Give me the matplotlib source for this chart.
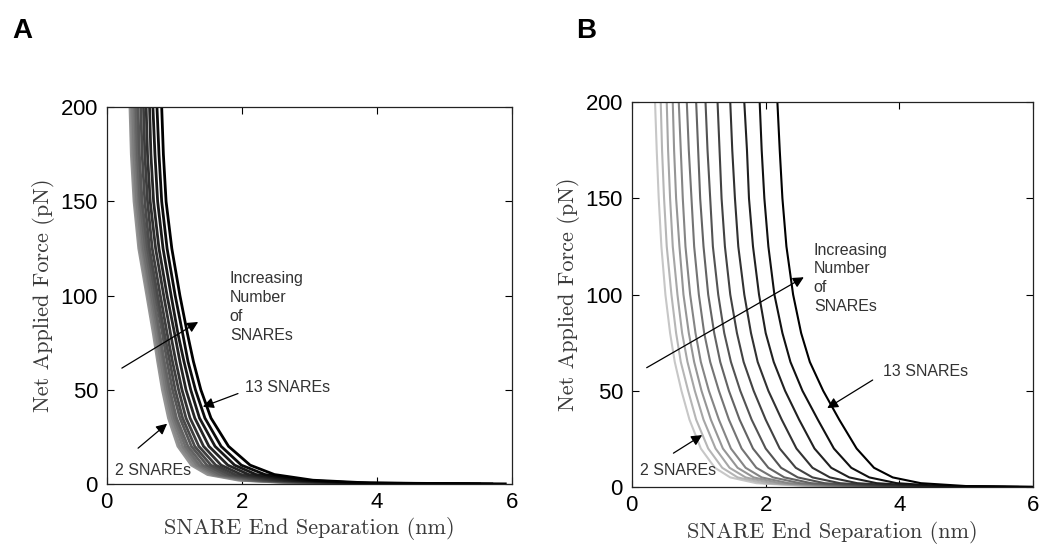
import numpy as np
import matplotlib
matplotlib.use("Agg")
import matplotlib.pyplot as plt

force_levels = [200, 175, 150, 125, 100, 80, 65, 50, 35, 20, 10, 5, 2, 0.5, 0.05]

# panel A: separation (nm) of each curve (lightest -> darkest) at each force level
sep_A = [
    [0.34, 0.36, 0.38, 0.41, 0.43, 0.46, 0.50, 0.54, 0.58, 0.63, 0.68, 0.74, 0.81],
    [0.36, 0.38, 0.40, 0.43, 0.45, 0.48, 0.52, 0.56, 0.60, 0.65, 0.71, 0.77, 0.835],
    [0.40, 0.42, 0.44, 0.47, 0.49, 0.52, 0.56, 0.60, 0.64, 0.69, 0.75, 0.81, 0.875],
    [0.47, 0.49, 0.52, 0.54, 0.57, 0.60, 0.63, 0.67, 0.72, 0.77, 0.83, 0.89, 0.96],
    [0.59, 0.61, 0.64, 0.66, 0.69, 0.72, 0.75, 0.79, 0.84, 0.89, 0.95, 1.01, 1.08],
    [0.685, 0.71, 0.73, 0.76, 0.78, 0.82, 0.85, 0.89, 0.94, 1.00, 1.05, 1.12, 1.19],
    [0.75, 0.77, 0.80, 0.83, 0.85, 0.89, 0.93, 0.97, 1.02, 1.08, 1.14, 1.20, 1.28],
    [0.82, 0.85, 0.87, 0.90, 0.93, 0.97, 1.01, 1.06, 1.11, 1.17, 1.24, 1.31, 1.39],
    [0.91, 0.94, 0.97, 1.00, 1.03, 1.08, 1.12, 1.17, 1.23, 1.30, 1.37, 1.45, 1.54],
    [1.05, 1.08, 1.12, 1.16, 1.20, 1.25, 1.30, 1.36, 1.43, 1.51, 1.60, 1.69, 1.80],
    [1.25, 1.29, 1.33, 1.37, 1.42, 1.48, 1.54, 1.61, 1.69, 1.79, 1.89, 1.99, 2.12],
    [1.49, 1.54, 1.58, 1.63, 1.68, 1.75, 1.82, 1.90, 1.99, 2.10, 2.21, 2.34, 2.48],
    [1.95, 2.00, 2.05, 2.11, 2.16, 2.24, 2.32, 2.41, 2.51, 2.63, 2.75, 2.89, 3.05],
    [2.80, 2.85, 2.90, 2.96, 3.01, 3.09, 3.17, 3.26, 3.36, 3.48, 3.60, 3.74, 3.90],
    [4.50, 4.56, 4.63, 4.70, 4.77, 4.87, 4.97, 5.08, 5.21, 5.36, 5.52, 5.70, 5.90],
]

# panel B: same layout
sep_B = [
    [0.345, 0.43, 0.52, 0.61, 0.70, 0.82, 0.96, 1.10, 1.28, 1.47, 1.68, 1.91, 2.175],
    [0.37, 0.45, 0.54, 0.63, 0.73, 0.85, 0.99, 1.13, 1.31, 1.50, 1.72, 1.94, 2.21],
    [0.40, 0.48, 0.57, 0.66, 0.76, 0.89, 1.02, 1.17, 1.34, 1.54, 1.75, 1.98, 2.25],
    [0.44, 0.52, 0.61, 0.71, 0.80, 0.93, 1.07, 1.21, 1.39, 1.59, 1.81, 2.04, 2.31],
    [0.50, 0.59, 0.68, 0.77, 0.87, 1.00, 1.14, 1.29, 1.47, 1.68, 1.90, 2.13, 2.41],
    [0.57, 0.66, 0.75, 0.85, 0.95, 1.08, 1.23, 1.38, 1.57, 1.78, 2.00, 2.25, 2.53],
    [0.64, 0.73, 0.83, 0.93, 1.03, 1.17, 1.32, 1.48, 1.67, 1.88, 2.12, 2.37, 2.66],
    [0.74, 0.84, 0.94, 1.04, 1.15, 1.30, 1.45, 1.62, 1.82, 2.04, 2.29, 2.55, 2.86],
    [0.86, 0.96, 1.07, 1.18, 1.30, 1.45, 1.61, 1.79, 2.00, 2.24, 2.50, 2.78, 3.10],
    [1.03, 1.14, 1.25, 1.36, 1.48, 1.64, 1.81, 2.00, 2.21, 2.46, 2.73, 3.02, 3.36],
    [1.24, 1.35, 1.46, 1.58, 1.70, 1.86, 2.04, 2.23, 2.45, 2.70, 2.98, 3.28, 3.62],
    [1.47, 1.58, 1.70, 1.82, 1.94, 2.11, 2.28, 2.48, 2.70, 2.96, 3.25, 3.55, 3.90],
    [1.86, 1.97, 2.09, 2.21, 2.34, 2.51, 2.68, 2.88, 3.11, 3.37, 3.66, 3.96, 4.32],
    [2.60, 2.71, 2.82, 2.94, 3.07, 3.23, 3.40, 3.59, 3.82, 4.08, 4.35, 4.65, 5.00],
    [4.60, 4.67, 4.75, 4.83, 4.91, 5.02, 5.13, 5.26, 5.41, 5.58, 5.77, 5.97, 6.20],
]

gray_A = (0.58, 0.0)   # lightest -> darkest grey level
gray_B = (0.78, 0.0)

serif = "cmr10"
plt.rcParams["axes.formatter.use_mathtext"] = True


def draw_panel(ax, sep, grays, lw):
    sep = np.array(sep)
    g0, g1 = grays
    n = sep.shape[1]
    for k in range(n):
        g = g0 + (g1 - g0) * k / (n - 1)
        ax.plot(sep[:, k], force_levels, color=(g, g, g), lw=lw, solid_joinstyle="round")
    ax.set_xlim(0, 6)
    ax.set_ylim(0, 200)
    ax.set_xticks([0, 2, 4, 6])
    ax.set_yticks([0, 50, 100, 150, 200])
    ax.tick_params(direction="in", length=5, top=True, right=True,
                   labelsize=16, pad=6, width=0.8)
    for lab in ax.get_xticklabels() + ax.get_yticklabels():
        lab.set_family("Liberation Sans")
    for s in ax.spines.values():
        s.set_linewidth(0.9)
        s.set_color("#222222")
    ax.set_xlabel("SNARE End Separation (nm)", family=serif, fontsize=16,
                  color="#3a3a3a", labelpad=3)
    ax.set_ylabel("Net Applied Force (pN)", family=serif, fontsize=16,
                  color="#3a3a3a", labelpad=4)


def arrow(ax, tail, tip):
    ax.annotate("", xy=tip, xytext=tail,
                arrowprops=dict(arrowstyle="-|>", color="k", lw=0.9,
                                mutation_scale=16, shrinkA=0, shrinkB=0))


fig = plt.figure(figsize=(10.42, 5.46), dpi=100)
axA = fig.add_axes([0.1027, 0.1136, 0.3887, 0.690])
axB = fig.add_axes([0.6065, 0.1080, 0.3850, 0.705])

draw_panel(axA, sep_A, gray_A, 2.0)
draw_panel(axB, sep_B, gray_B, 1.5)

txt = dict(family="Liberation Sans", fontsize=11.5, color="#333333")

# panel A annotations
axA.text(1.82, 113, "Increasing\nNumber\nof\nSNAREs", va="top", ha="left",
         linespacing=1.32, **txt)
arrow(axA, (0.22, 61.5), (1.35, 86))
axA.text(2.04, 51, "13 SNAREs", va="center", ha="left", **txt)
arrow(axA, (1.94, 48), (1.42, 41))
axA.text(0.12, 7.4, "2 SNAREs", va="center", ha="left", **txt)
arrow(axA, (0.46, 19), (0.89, 32))

# panel B annotations
axB.text(2.72, 127, "Increasing\nNumber\nof\nSNAREs", va="top", ha="left",
         linespacing=1.32, **txt)
arrow(axB, (0.22, 62), (2.57, 109))
axB.text(3.75, 60, "13 SNAREs", va="center", ha="left", **txt)
arrow(axB, (3.6, 55.6), (2.92, 41))
axB.text(0.12, 8.8, "2 SNAREs", va="center", ha="left", **txt)
arrow(axB, (0.62, 17.6), (1.05, 27))

fig.text(0.012, 0.93, "A", family="Liberation Sans", fontsize=20, weight="bold")
fig.text(0.553, 0.93, "B", family="Liberation Sans", fontsize=20, weight="bold")

fig.savefig("out.png", dpi=100, facecolor="white")
